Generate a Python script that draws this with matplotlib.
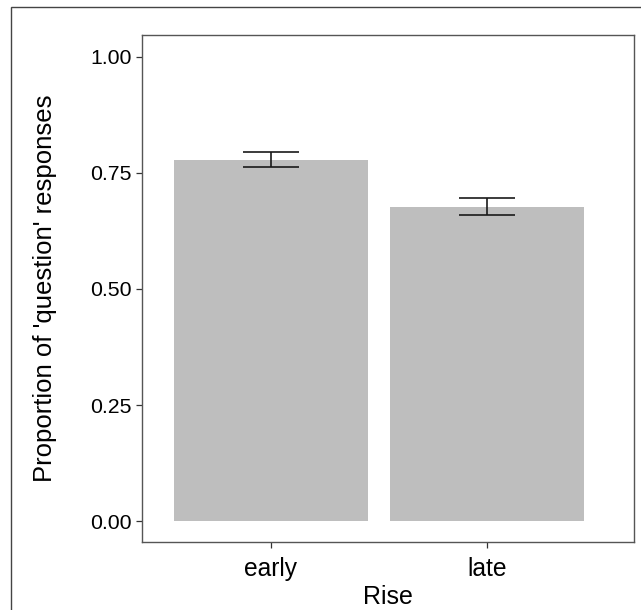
import matplotlib.pyplot as plt
from matplotlib.patches import Rectangle

# values
rise = ['early', 'late']
proportion = [0.777, 0.677]
err_low = [0.762, 0.659]
err_high = [0.794, 0.695]
y_ticks = [0.00, 0.25, 0.50, 0.75, 1.00]

plt.rcParams['font.family'] = ['Liberation Sans', 'DejaVu Sans']

fig = plt.figure(figsize=(6.41, 6.10), dpi=100)
W, H = 641, 610
# axes box in pixels: left 142, right 634, top 35, bottom 542
ax = fig.add_axes([142 / W, 1 - 542 / H, (634 - 142) / W, (542 - 35) / H])

pos = [1, 2]
ax.bar(pos, proportion, width=0.9, color='#bebebe', zorder=2)
yerr = [[p - lo for p, lo in zip(proportion, err_low)],
        [hi - p for p, hi in zip(proportion, err_high)]]
ax.errorbar(pos, proportion, yerr=yerr, fmt='none', ecolor='#1a1a1a',
            elinewidth=1.2, capsize=20, capthick=1.2, zorder=3)

ax.set_xlim(0.404, 2.68)
ax.set_ylim(-0.045, 1.047)
ax.set_xticks(pos)
ax.set_xticklabels(rise)
ax.set_yticks(y_ticks)
ax.set_yticklabels(['%.2f' % t for t in y_ticks])

for s in ax.spines.values():
    s.set_color('#555555')
    s.set_linewidth(1.0)
ax.tick_params(axis='both', length=4.5, width=0.9, color='#333333',
               labelcolor='black', pad=3)
ax.tick_params(axis='y', labelsize=15.3)
ax.tick_params(axis='x', labelsize=17.7, pad=6)

ax.set_ylabel("Proportion of 'question' responses", fontsize=18.5, labelpad=24)
ax.set_xlabel('Rise', fontsize=18, labelpad=3)

# outer frame around the figure
fig.patches.append(Rectangle((11 / W, -0.01), 1.0, 1 - 7 / H + 0.01,
                             transform=fig.transFigure, fill=False,
                             edgecolor='#444444', linewidth=1.0))

fig.savefig('out.png', dpi=100)
